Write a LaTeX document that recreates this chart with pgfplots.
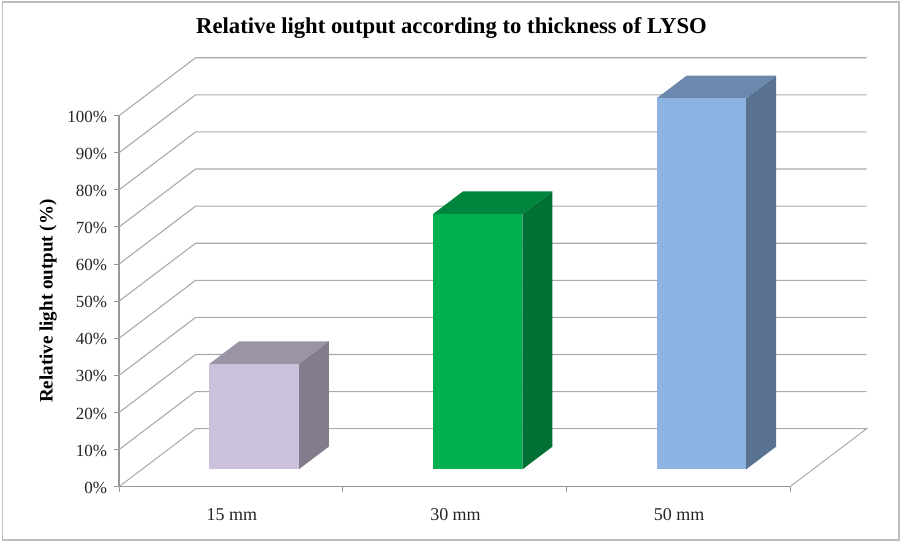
\documentclass[border=0pt]{standalone}
\usepackage{fontspec}
\setmainfont{Liberation Serif}
\usepackage{pgfplots}
\pgfplotsset{compat=1.18}
\definecolor{gridc}{RGB}{170,170,170}
\definecolor{axisc}{RGB}{150,150,150}
\definecolor{frc}{RGB}{190,190,190}
\definecolor{af}{RGB}{204,193,218}\definecolor{at}{RGB}{155,147,166}\definecolor{as}{RGB}{130,124,140}
\definecolor{bf}{RGB}{0,176,80}\definecolor{bt}{RGB}{0,134,60}\definecolor{bs}{RGB}{0,112,52}
\definecolor{cf}{RGB}{141,179,226}\definecolor{ct}{RGB}{108,136,172}\definecolor{cs}{RGB}{90,114,146}
\begin{document}
\begin{tikzpicture}[x=1pt,y=1pt]
\path[fill=white] (0,0) rectangle (902,543);
\draw[frc,line width=1.6pt] (2.3,3) rectangle (899,541);
\begin{axis}[
  at={(119pt,56.3pt)},anchor=south west,
  scale only axis,width=671pt,height=371pt,
  xmin=0,xmax=3,ymin=0,ymax=100,clip=false,
  axis lines=left,axis line style={-,draw=axisc,line width=1.1pt},
  xtick={0.5,1.5,2.5},xticklabels={15 mm,30 mm,50 mm},
  minor xtick={0,1,2,3},
  ytick={0,10,...,100},
  yticklabel={\pgfmathprintnumber{\tick}\%},
  /pgf/number format/assume math mode=true,
  tick align=outside,
  major x tick style={draw=none},
  minor x tick style={draw=axisc,line width=1pt},
  y tick style={draw=axisc,line width=1pt},
  major tick length=5pt,minor tick length=5pt,
  tick label style={font=\fontsize{17}{19}\selectfont,text=black!85},
  xticklabel style={yshift=-13pt,font=\fontsize{18}{20}\selectfont,xshift=1pt},
  yticklabel style={xshift=-3.5pt,yshift=-1pt},
  title={Relative light output according to thickness of LYSO},
  title style={at={(axis description cs:0.4955,1.2205)},anchor=center,font=\fontsize{22.7}{24}\selectfont\bfseries},
  ylabel={Relative light output (\%)},
  ylabel style={at={(axis description cs:-0.1055,0.5)},anchor=center,font=\fontsize{19}{21}\selectfont\bfseries},
]
% floor
\addplot[gridc,line width=1pt] coordinates {(3,0) (3.3425,15.63) (0.3425,15.63) (0,0)};
% wall gridlines
\addplot[gridc,line width=1.1pt] coordinates {(0,10) (0.3425,25.63) (3.3425,25.63)};
\addplot[gridc,line width=1.1pt] coordinates {(0,20) (0.3425,35.63) (3.3425,35.63)};
\addplot[gridc,line width=1.1pt] coordinates {(0,30) (0.3425,45.63) (3.3425,45.63)};
\addplot[gridc,line width=1.1pt] coordinates {(0,40) (0.3425,55.63) (3.3425,55.63)};
\addplot[gridc,line width=1.1pt] coordinates {(0,50) (0.3425,65.63) (3.3425,65.63)};
\addplot[gridc,line width=1.1pt] coordinates {(0,60) (0.3425,75.63) (3.3425,75.63)};
\addplot[gridc,line width=1.1pt] coordinates {(0,70) (0.3425,85.63) (3.3425,85.63)};
\addplot[gridc,line width=1.1pt] coordinates {(0,80) (0.3425,95.63) (3.3425,95.63)};
\addplot[gridc,line width=1.1pt] coordinates {(0,90) (0.3425,105.63) (3.3425,105.63)};
\addplot[gridc,line width=1.1pt] coordinates {(0,100) (0.3425,115.63) (3.3425,115.63)};
% bar 1
\addplot[fill=as,draw=none] coordinates {(0.804,4.7) (0.938,10.8) (0.938,39.2) (0.804,33.1)} --cycle;
\addplot[fill=at,draw=none] coordinates {(0.404,33.1) (0.804,33.1) (0.938,39.2) (0.538,39.2)} --cycle;
\addplot[fill=af,draw=none] coordinates {(0.404,4.7) (0.804,4.7) (0.804,33.1) (0.404,33.1)} --cycle;
% bar 2
\addplot[fill=bs,draw=none] coordinates {(1.804,4.7) (1.938,10.8) (1.938,79.6) (1.804,73.5)} --cycle;
\addplot[fill=bt,draw=none] coordinates {(1.404,73.5) (1.804,73.5) (1.938,79.6) (1.538,79.6)} --cycle;
\addplot[fill=bf,draw=none] coordinates {(1.404,4.7) (1.804,4.7) (1.804,73.5) (1.404,73.5)} --cycle;
% bar 3
\addplot[fill=cs,draw=none] coordinates {(2.804,4.7) (2.938,10.8) (2.938,110.8) (2.804,104.7)} --cycle;
\addplot[fill=ct,draw=none] coordinates {(2.404,104.7) (2.804,104.7) (2.938,110.8) (2.538,110.8)} --cycle;
\addplot[fill=cf,draw=none] coordinates {(2.404,4.7) (2.804,4.7) (2.804,104.7) (2.404,104.7)} --cycle;
\end{axis}
\end{tikzpicture}
\end{document}
